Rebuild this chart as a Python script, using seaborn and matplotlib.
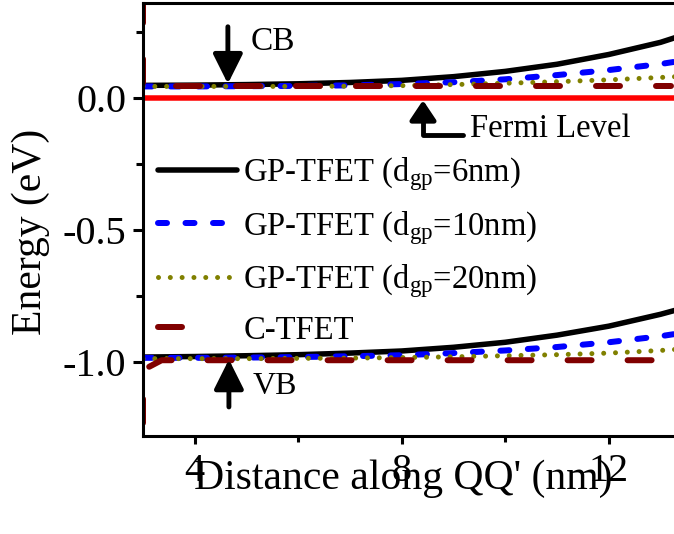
import numpy as np
import pandas as pd
import matplotlib
matplotlib.use("Agg")
import matplotlib.pyplot as plt
import seaborn as sns

# ---------------- data ----------------
x_gp = [3.0, 4.0, 5.0, 6.0, 7.0, 8.0, 9.0, 10.0, 11.0, 12.0, 13.0, 13.3]

cb_gp6 = [0.046, 0.047, 0.049, 0.052, 0.057, 0.065, 0.079, 0.099, 0.126, 0.163, 0.209, 0.228]
vb_gp6 = [-0.983, -0.981, -0.978, -0.974, -0.968, -0.960, -0.946, -0.927, -0.900, -0.866, -0.821, -0.805]

cb_gp10 = [0.042, 0.042, 0.043, 0.044, 0.046, 0.051, 0.058, 0.069, 0.085, 0.104, 0.127, 0.136]
vb_gp10 = [-0.986, -0.986, -0.985, -0.983, -0.980, -0.976, -0.968, -0.958, -0.945, -0.927, -0.904, -0.895]

cb_gp20 = [0.042, 0.042, 0.042, 0.042, 0.043, 0.045, 0.049, 0.054, 0.060, 0.067, 0.076, 0.079]
vb_gp20 = [-0.989, -0.989, -0.989, -0.988, -0.987, -0.985, -0.982, -0.978, -0.974, -0.968, -0.958, -0.954]

x_c_cb = [3.0, 3.0, 13.2]
cb_c = [0.49, 0.042, 0.042]
x_c_vb = [3.0, 3.0, 3.36, 13.2]
vb_c = [-1.46, -1.032, -0.995, -0.995]

fermi_level = 0.0

labels = [r"GP-TFET (d$_{\mathrm{gp}}$=6nm)",
          r"GP-TFET (d$_{\mathrm{gp}}$=10nm)",
          r"GP-TFET (d$_{\mathrm{gp}}$=20nm)",
          "C-TFET"]

xticks = [4, 8, 12]
yticks = [-1.0, -0.5, 0.0]

# ---------------- style ----------------
sns.set_theme(style="ticks")
plt.rcParams["font.family"] = ["Liberation Serif", "DejaVu Serif"]
plt.rcParams["mathtext.fontset"] = "custom"
plt.rcParams["mathtext.rm"] = "Liberation Serif"
plt.rcParams["mathtext.it"] = "Liberation Serif:italic"
plt.rcParams["mathtext.bf"] = "Liberation Serif:bold"
plt.rcParams["lines.scale_dashes"] = False

fig = plt.figure(figsize=(6.74, 5.34), dpi=100)
ax = fig.add_axes([143 / 674, 1 - 436 / 534, 1 - 143 / 674, (436 - 3) / 534])

px = 0.72  # points per pixel at 100 dpi

black_kw = dict(color="black", lw=5.5 * px, solid_capstyle="round")
blue_kw = dict(color="#0000ff", lw=6 * px, linestyle=(0, (9 * px, 18.5 * px)), dash_capstyle="round")
olive_kw = dict(color="#808000", lw=5 * px, linestyle=(0, (0.01, 11.8 * px)), dash_capstyle="round")
brown_kw = dict(color="#800000", lw=6 * px, linestyle=(0, (24 * px, 36 * px)), dash_capstyle="round")

ax.axhline(fermi_level, color="red", lw=5.5 * px, zorder=1)

sns.lineplot(x=x_gp, y=cb_gp6, ax=ax, label=labels[0], estimator=None, sort=False, **black_kw)
sns.lineplot(x=x_gp, y=vb_gp6, ax=ax, estimator=None, sort=False, **black_kw)
sns.lineplot(x=x_gp, y=cb_gp10, ax=ax, label=labels[1], estimator=None, sort=False, **blue_kw)
sns.lineplot(x=x_gp, y=vb_gp10, ax=ax, estimator=None, sort=False, **blue_kw)
sns.lineplot(x=x_gp, y=cb_gp20, ax=ax, label=labels[2], estimator=None, sort=False, **olive_kw)
sns.lineplot(x=x_gp, y=vb_gp20, ax=ax, estimator=None, sort=False, **olive_kw)
sns.lineplot(x=x_c_cb, y=cb_c, ax=ax, label=labels[3], estimator=None, sort=False, **brown_kw)
sns.lineplot(x=x_c_vb, y=vb_c, ax=ax, estimator=None, sort=False, **brown_kw)

ax.set_xlim(3.0, 13.26)
ax.set_ylim(-1.282, 0.358)
ax.set_xticks(xticks)
ax.set_xticklabels([str(t) for t in xticks])
ax.set_xticks([6, 10], minor=True)
ax.set_yticks(yticks)
ax.set_yticklabels([f"{t:.1f}" for t in yticks])
ax.set_yticks([-0.75, -0.25, 0.25], minor=True)

for s in ["left", "top", "bottom"]:
    ax.spines[s].set_linewidth(2.2)
    ax.spines[s].set_color("black")
ax.spines["right"].set_visible(False)

ax.tick_params(axis="both", which="major", direction="out", width=2.2, colors="black",
               labelsize=29)
ax.tick_params(axis="x", which="major", length=6, pad=6)
ax.tick_params(axis="y", which="major", length=7, pad=5)
ax.tick_params(axis="x", which="minor", direction="out", length=4, width=2.2, color="black")
ax.tick_params(axis="y", which="minor", direction="out", length=5, width=2.2, color="black")

ax.set_xlabel("Distance along QQ' (nm)", fontsize=30, color="black")
ax.xaxis.label.set_va("baseline")
ax.xaxis.set_label_coords(0.49, -0.122)
ax.set_ylabel("Energy (eV)", fontsize=30, color="black")
ax.yaxis.set_label_coords(-0.175, 0.471)

# legend
leg = ax.legend(loc="upper left", bbox_to_anchor=(0.028, 0.648), frameon=False,
                fontsize=23.5, handlelength=2.42, handletextpad=0.2, labelspacing=0.47,
                borderpad=0, borderaxespad=0)
for t in leg.get_texts():
    t.set_color("black")
leg.get_lines()[3].set_linestyle((0, (24 * px, 70 * px)))

# annotations
akw = dict(arrowstyle="-|>,head_length=0.9,head_width=0.45", color="black", lw=3.5,
           shrinkA=0, shrinkB=0, mutation_scale=20)
ax.annotate("", xy=(4.64, 0.052), xytext=(4.64, 0.268), arrowprops=akw)
ax.text(5.07, 0.18, "CB", fontsize=24, color="black", va="baseline", ha="left")

ax.annotate("", xy=(4.66, -0.992), xytext=(4.66, -1.172), arrowprops=akw)
ax.text(5.11, -1.123, "VB", fontsize=23, color="black", va="baseline", ha="left")

fkw = dict(akw)
fkw["arrowstyle"] = "-|>,head_length=0.6,head_width=0.4"
fkw["connectionstyle"] = "angle,angleA=0,angleB=90,rad=0"
ax.annotate("", xy=(8.41, -0.010), xytext=(9.18, -0.142), arrowprops=fkw)
ax.text(9.32, -0.148, "Fermi Level", fontsize=23.5, color="black", va="baseline", ha="left")

fig.savefig("out.png", dpi=100)
